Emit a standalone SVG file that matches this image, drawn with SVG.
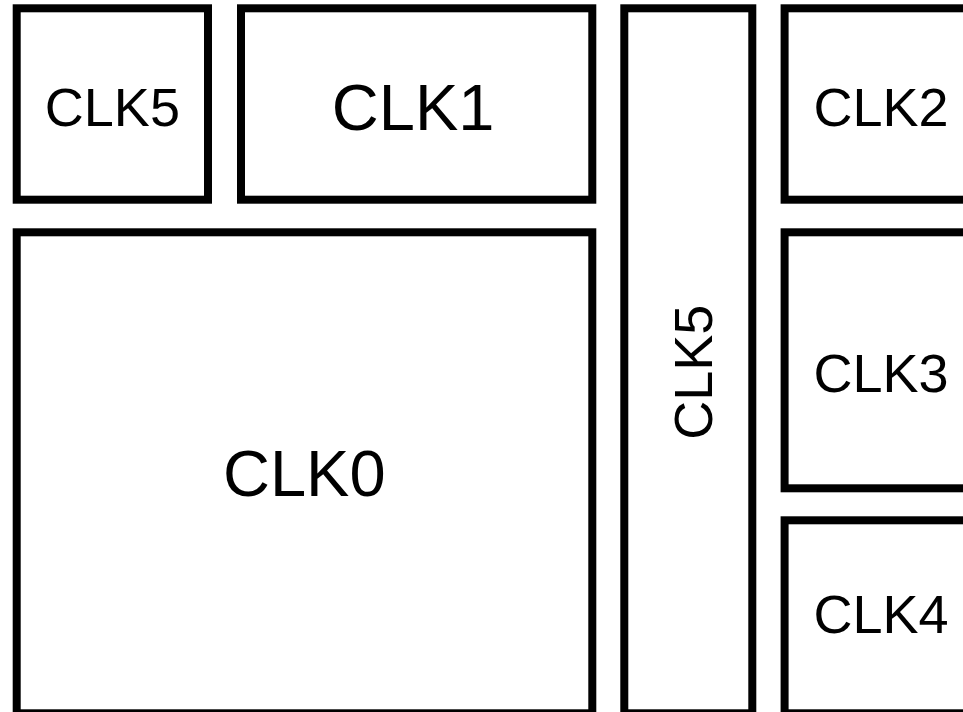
<svg xmlns="http://www.w3.org/2000/svg" width="963" height="712" viewBox="0 0 963 712">
<style>
.box{fill:#fff;stroke:#000;stroke-width:8}
.t{font-family:"Liberation Sans",Arial,sans-serif;fill:#000}
.s{font-size:54px}
.l{font-size:65px}
</style>
<rect width="963" height="712" fill="#fff"/>
<g id="clk5-top">
<rect class="box" x="16.7" y="8.3" width="191.3" height="191.4"/>
<text class="t s" x="112.4" y="125.6" text-anchor="middle">CLK5</text>
</g>
<g id="clk1">
<rect class="box" x="241" y="8.3" width="351.3" height="191.4"/>
<text class="t l" x="331.8" y="130.3">CLK1</text>
</g>
<g id="clk0">
<rect class="box" x="16.7" y="232.3" width="575.6" height="481"/>
<text class="t l" x="304.3" y="496" text-anchor="middle">CLK0</text>
</g>
<g id="clk5-col">
<rect class="box" x="624.3" y="8.3" width="128" height="705"/>
<text class="t s" transform="translate(711.6 372.2) rotate(-90)" text-anchor="middle">CLK5</text>
</g>
<g id="clk2">
<rect class="box" x="784.6" y="8.3" width="200" height="191.4"/>
<text class="t s" x="813.4" y="125.6">CLK2</text>
</g>
<g id="clk3">
<rect class="box" x="784.6" y="232.3" width="200" height="256"/>
<text class="t s" x="813.4" y="391.6">CLK3</text>
</g>
<g id="clk4">
<rect class="box" x="784.6" y="520.3" width="200" height="193"/>
<text class="t s" x="813.4" y="632.9">CLK4</text>
</g>
<g id="connectors"/>
</svg>
